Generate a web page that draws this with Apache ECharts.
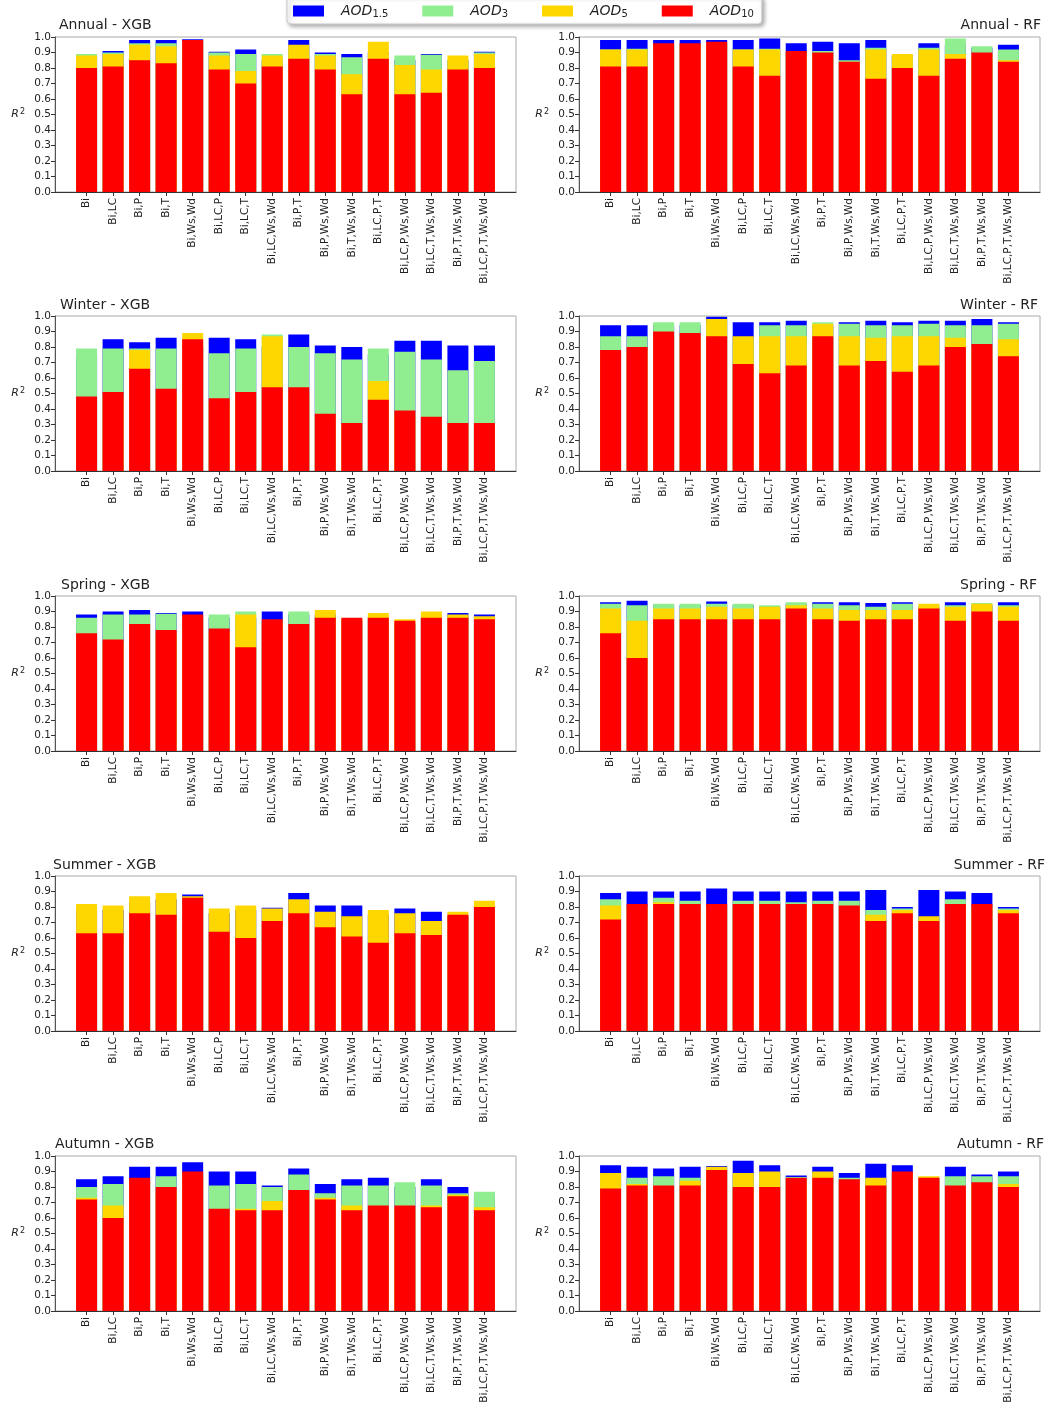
<!DOCTYPE html>
<html>
<head>
<meta charset="utf-8">
<script src="https://cdn.jsdelivr.net/npm/echarts@6/dist/echarts.min.js"></script>
<style>html,body{margin:0;padding:0;background:#fff}#c{width:1056px;height:1411px}</style>
</head>
<body>
<div id="c"></div>
<script>
const categories = ['Bi','Bi,LC','Bi,P','Bi,T','Bi,Ws,Wd','Bi,LC,P','Bi,LC,T','Bi,LC,Ws,Wd','Bi,P,T','Bi,P,Ws,Wd','Bi,T,Ws,Wd','Bi,LC,P,T','Bi,LC,P,Ws,Wd','Bi,LC,T,Ws,Wd','Bi,P,T,Ws,Wd','Bi,LC,P,T,Ws,Wd'];
const seriesNames = ['AOD1.5','AOD3','AOD5','AOD10'];
const seriesColors = ['#0000ff','#90ee90','#ffd700','#ff0000'];

// Annual - XGB
const annualXgb15 = [0.88,0.91,0.98,0.98,0.985,0.905,0.92,0.85,0.98,0.90,0.89,0.90,0.85,0.89,0.85,0.905];
const annualXgb3  = [0.89,0.90,0.96,0.96,0.97,0.90,0.89,0.89,0.94,0.89,0.87,0.89,0.88,0.885,0.85,0.90];
const annualXgb5  = [0.88,0.89,0.95,0.94,0.97,0.88,0.78,0.88,0.95,0.88,0.76,0.97,0.82,0.79,0.88,0.89];
const annualXgb10 = [0.80,0.81,0.85,0.83,0.98,0.79,0.70,0.81,0.86,0.79,0.63,0.86,0.63,0.64,0.79,0.80];
// Annual - RF
const annualRf15 = [0.98,0.98,0.98,0.98,0.98,0.98,0.99,0.96,0.97,0.96,0.98,0.88,0.96,0.95,0.93,0.95];
const annualRf3  = [0.92,0.925,0.95,0.95,0.96,0.92,0.925,0.90,0.91,0.85,0.93,0.88,0.93,0.99,0.94,0.92];
const annualRf5  = [0.92,0.92,0.95,0.95,0.96,0.92,0.92,0.90,0.89,0.84,0.92,0.89,0.92,0.89,0.89,0.85];
const annualRf10 = [0.81,0.81,0.96,0.96,0.97,0.81,0.75,0.91,0.90,0.84,0.73,0.80,0.75,0.86,0.90,0.84];
// Winter - XGB
const winterXgb15 = [0.75,0.85,0.83,0.86,0.80,0.86,0.85,0.80,0.88,0.81,0.80,0.75,0.84,0.84,0.81,0.81];
const winterXgb3  = [0.79,0.79,0.79,0.79,0.84,0.76,0.79,0.88,0.80,0.76,0.72,0.79,0.77,0.72,0.65,0.71];
const winterXgb5  = [0.45,0.48,0.78,0.50,0.89,0.45,0.48,0.87,0.50,0.35,0.30,0.58,0.37,0.33,0.30,0.30];
const winterXgb10 = [0.48,0.51,0.66,0.53,0.85,0.47,0.51,0.54,0.54,0.37,0.31,0.46,0.39,0.35,0.31,0.31];
// Winter - RF
const winterRf15 = [0.94,0.94,0.94,0.94,0.995,0.96,0.96,0.97,0.94,0.96,0.97,0.96,0.97,0.97,0.98,0.96];
const winterRf3  = [0.87,0.87,0.96,0.96,0.95,0.85,0.94,0.94,0.96,0.95,0.94,0.94,0.95,0.94,0.94,0.95];
const winterRf5  = [0.75,0.78,0.88,0.87,0.98,0.87,0.87,0.87,0.95,0.87,0.86,0.87,0.87,0.86,0.80,0.85];
const winterRf10 = [0.78,0.80,0.90,0.89,0.87,0.69,0.63,0.68,0.87,0.68,0.71,0.64,0.68,0.80,0.82,0.74];
// Spring - XGB
const springXgb15 = [0.88,0.90,0.91,0.89,0.90,0.86,0.86,0.90,0.88,0.88,0.84,0.86,0.82,0.86,0.89,0.88];
const springXgb3  = [0.86,0.88,0.88,0.885,0.87,0.88,0.90,0.84,0.90,0.85,0.84,0.85,0.83,0.85,0.87,0.86];
const springXgb5  = [0.74,0.70,0.80,0.76,0.86,0.77,0.88,0.83,0.80,0.91,0.85,0.89,0.85,0.90,0.88,0.87];
const springXgb10 = [0.76,0.72,0.82,0.78,0.88,0.79,0.67,0.85,0.82,0.86,0.86,0.86,0.84,0.86,0.86,0.85];
// Spring - RF
const springRf15 = [0.96,0.97,0.94,0.94,0.965,0.94,0.93,0.95,0.96,0.96,0.955,0.96,0.93,0.96,0.94,0.96];
const springRf3  = [0.95,0.94,0.95,0.95,0.95,0.95,0.94,0.96,0.95,0.94,0.93,0.95,0.94,0.94,0.955,0.94];
const springRf5  = [0.92,0.84,0.92,0.92,0.93,0.92,0.93,0.94,0.92,0.91,0.91,0.91,0.95,0.93,0.95,0.93];
const springRf10 = [0.76,0.60,0.85,0.85,0.85,0.85,0.85,0.92,0.85,0.84,0.85,0.85,0.92,0.84,0.90,0.84];
// Summer - XGB
const summerXgb15 = [0.78,0.78,0.83,0.85,0.88,0.76,0.78,0.795,0.89,0.81,0.81,0.75,0.79,0.77,0.74,0.80];
const summerXgb3  = [0.60,0.60,0.70,0.70,0.80,0.60,0.58,0.68,0.72,0.62,0.58,0.55,0.60,0.58,0.70,0.75];
const summerXgb5  = [0.82,0.81,0.87,0.89,0.87,0.79,0.81,0.79,0.85,0.77,0.74,0.78,0.76,0.71,0.77,0.84];
const summerXgb10 = [0.63,0.63,0.76,0.75,0.86,0.64,0.60,0.71,0.76,0.67,0.61,0.57,0.63,0.62,0.75,0.80];
// Summer - RF
const summerRf15 = [0.89,0.90,0.90,0.90,0.92,0.90,0.90,0.90,0.90,0.90,0.91,0.80,0.91,0.90,0.89,0.80];
const summerRf3  = [0.85,0.81,0.86,0.84,0.81,0.84,0.84,0.83,0.84,0.84,0.78,0.79,0.72,0.85,0.81,0.79];
const summerRf5  = [0.81,0.80,0.83,0.81,0.80,0.81,0.81,0.81,0.81,0.80,0.75,0.78,0.74,0.81,0.80,0.78];
const summerRf10 = [0.72,0.82,0.82,0.82,0.82,0.82,0.82,0.82,0.82,0.81,0.71,0.76,0.71,0.82,0.82,0.76];
// Autumn - XGB
const autumnXgb15 = [0.85,0.87,0.93,0.93,0.96,0.90,0.90,0.81,0.92,0.82,0.85,0.86,0.80,0.85,0.80,0.75];
const autumnXgb3  = [0.80,0.82,0.85,0.87,0.89,0.81,0.82,0.80,0.88,0.76,0.81,0.81,0.83,0.81,0.76,0.77];
const autumnXgb5  = [0.73,0.68,0.84,0.78,0.88,0.64,0.66,0.71,0.76,0.73,0.68,0.66,0.66,0.68,0.75,0.67];
const autumnXgb10 = [0.72,0.60,0.86,0.80,0.90,0.66,0.65,0.65,0.78,0.72,0.65,0.68,0.68,0.67,0.74,0.65];
// Autumn - RF
const autumnRf15 = [0.94,0.93,0.92,0.93,0.935,0.97,0.94,0.875,0.93,0.89,0.95,0.94,0.86,0.93,0.88,0.90];
const autumnRf3  = [0.88,0.86,0.87,0.86,0.92,0.88,0.89,0.865,0.89,0.86,0.85,0.88,0.85,0.87,0.87,0.87];
const autumnRf5  = [0.89,0.82,0.80,0.84,0.93,0.89,0.90,0.85,0.90,0.84,0.86,0.89,0.87,0.80,0.82,0.82];
const autumnRf10 = [0.79,0.81,0.81,0.81,0.91,0.80,0.80,0.86,0.86,0.85,0.81,0.90,0.86,0.81,0.83,0.80];

const panelTitles = ['Annual - XGB','Annual - RF','Winter - XGB','Winter - RF','Spring - XGB','Spring - RF','Summer - XGB','Summer - RF','Autumn - XGB','Autumn - RF'];
const panelData = [
  [annualXgb15, annualXgb3, annualXgb5, annualXgb10],
  [annualRf15, annualRf3, annualRf5, annualRf10],
  [winterXgb15, winterXgb3, winterXgb5, winterXgb10],
  [winterRf15, winterRf3, winterRf5, winterRf10],
  [springXgb15, springXgb3, springXgb5, springXgb10],
  [springRf15, springRf3, springRf5, springRf10],
  [summerXgb15, summerXgb3, summerXgb5, summerXgb10],
  [summerRf15, summerRf3, summerRf5, summerRf10],
  [autumnXgb15, autumnXgb3, autumnXgb5, autumnXgb10],
  [autumnRf15, autumnRf3, autumnRf5, autumnRf10]
];

// layout
const rowTops = [37, 316, 596, 876, 1156];
const colLefts = [55, 579];
const gridW = 461, gridH = 155;
const titleCenters = [27, 307, 587, 867, 1146];
const titleLeftX = [59, 60, 61, 53, 55];
const titleRightX = [1041, 1038, 1037, 1045, 1044];

const FONT = 'DejaVu Sans';
const idx = categories.map((c, i) => i);

const grids = [], xAxes = [], yAxes = [], series = [], titles = [];
panelTitles.forEach((t, p) => {
  const row = Math.floor(p / 2), col = p % 2;
  grids.push({left: colLefts[col], top: rowTops[row], width: gridW, height: gridH,
    show: true, borderColor: '#aaaaaa', borderWidth: 1, containLabel: false});
  xAxes.push({type: 'value', gridIndex: p, min: -1.19, max: 16.19,
    splitLine: {show: false},
    axisLine: {show: true, onZero: false, lineStyle: {color: '#333', width: 1}},
    axisTick: {show: true, customValues: idx, length: 4, lineStyle: {color: '#333'}},
    axisLabel: {customValues: idx, rotate: 90, margin: 6, fontSize: 10.5, fontFamily: FONT, color: '#222',
      formatter: v => categories[Math.round(v)]}
  });
  yAxes.push({type: 'value', gridIndex: p, min: 0, max: 1, interval: 0.1,
    splitLine: {show: false},
    axisLine: {show: true, onZero: false, lineStyle: {color: '#555', width: 1}},
    axisTick: {show: true, length: 4, lineStyle: {color: '#333'}},
    axisLabel: {fontSize: 10.5, fontFamily: FONT, color: '#222', margin: 4, formatter: v => v.toFixed(1)},
    name: '{r|R}{s|2}', nameLocation: 'middle', nameRotate: 0, nameGap: 30,
    nameTextStyle: {rich: {
      r: {fontSize: 11, fontStyle: 'italic', fontFamily: FONT, color: '#222'},
      s: {fontSize: 8, fontFamily: FONT, color: '#222', verticalAlign: 'top', padding: [0, 0, 6, 1]}
    }}
  });
  const ttl = {text: t, top: titleCenters[row] - 9, padding: 0,
    textStyle: {fontSize: 14, fontWeight: 'normal', fontFamily: FONT, color: '#222'}};
  if (col === 0) ttl.left = titleLeftX[row]; else ttl.right = 1056 - titleRightX[row];
  titles.push(ttl);
  panelData[p].forEach((arr, s) => {
    series.push({type: 'bar', name: seriesNames[s], xAxisIndex: p, yAxisIndex: p,
      barWidth: 21, barGap: '-100%',
      itemStyle: {color: seriesColors[s]},
      data: arr.map((v, j) => [j, v])});
  });
});

const legendRich = {
  a: {fontSize: 14, fontStyle: 'italic', fontFamily: FONT, color: '#222'},
  b: {fontSize: 10, fontFamily: FONT, color: '#222', verticalAlign: 'bottom', padding: [6, 0, 0, 0]}
};

const chart = echarts.init(document.getElementById('c'), null, {renderer: 'canvas'});
chart.setOption({
  animation: false,
  backgroundColor: '#ffffff',
  title: titles,
  legend: {data: seriesNames, left: 287, top: -4, orient: 'horizontal',
    itemWidth: 31, itemHeight: 11, itemGap: 34,
    padding: [8, 8, 5, 6],
    backgroundColor: '#ffffff', borderColor: '#cccccc', borderWidth: 1, borderRadius: 4,
    shadowBlur: 4, shadowOffsetX: 2, shadowOffsetY: 2, shadowColor: 'rgba(0,0,0,0.35)',
    selectedMode: false,
    formatter: n => '{a|AOD}{b|' + n.slice(3) + '}',
    textStyle: {rich: legendRich, padding: [0, 0, 0, 12]},
    icon: 'rect'},
  grid: grids,
  xAxis: xAxes,
  yAxis: yAxes,
  series: series
});
</script>
</body>
</html>
